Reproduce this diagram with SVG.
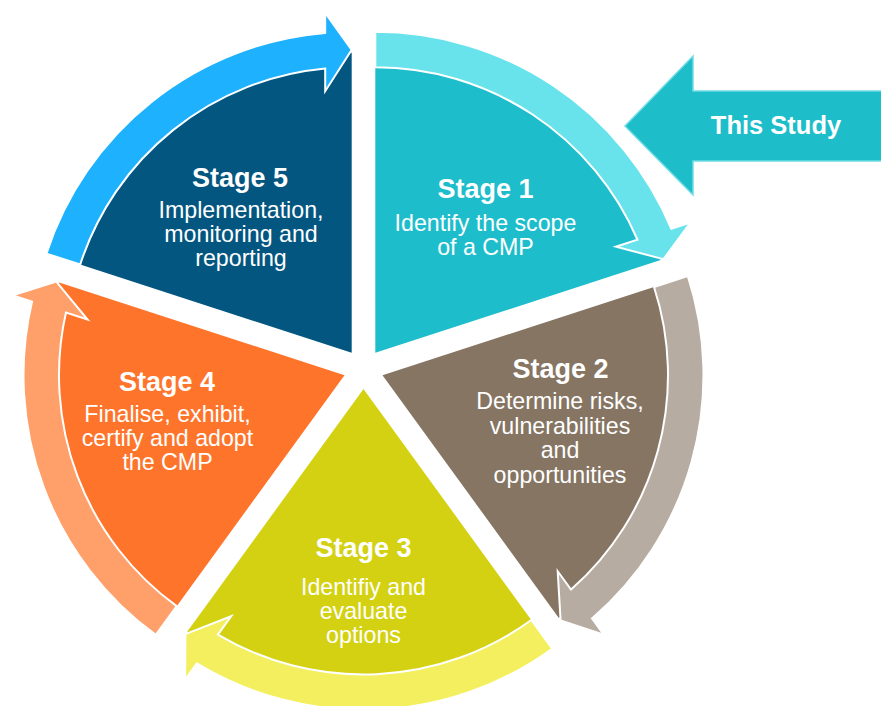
<svg xmlns="http://www.w3.org/2000/svg" xmlns:xlink="http://www.w3.org/1999/xlink" width="881" height="706" viewBox="0 0 881 706">
<style>
text{font-family:"Liberation Sans",Arial,Helvetica,sans-serif;fill:#fff;text-anchor:middle}
.t{font-weight:bold;font-size:27px}
.b{font-size:23.2px}
.band{stroke:#fff;stroke-width:2;stroke-linejoin:miter}
</style>
<defs>
<path id="sector" d="M0,0 L300,0 A300,300 0 0,1 92.705,285.317 Z"/>
<path id="band" d="M285.5,0 A285.5,285.5 0 0,1 113.05,262.17 L106.04,240.61 L93.63,288.17 L130.27,315.17 L124.06,296.05 A321,321 0 0,0 321,0 Z"/>
</defs>
<rect width="881" height="706" fill="#fff"/>
<g id="stage1">
<g transform="translate(375.3,352.8) rotate(-90)">
<use xlink:href="#sector" href="#sector" fill="#1DBDCB"/>
<use xlink:href="#band" href="#band" class="band" fill="#68E3EC"/>
</g>
<text class="t" x="485.5" y="198">Stage 1</text>
<text class="b" x="485.5" y="231">Identify the scope</text>
<text class="b" x="485.5" y="255">of a CMP</text>
</g>
<g id="stage2">
<g transform="translate(382.5,375.2) rotate(-18)">
<use xlink:href="#sector" href="#sector" fill="#867563"/>
<use xlink:href="#band" href="#band" class="band" fill="#B7ACA1"/>
</g>
<text class="t" x="560.5" y="378">Stage 2</text>
<text class="b" x="560" y="409">Determine risks,</text>
<text class="b" x="560" y="433.5">vulnerabilities</text>
<text class="b" x="560" y="458">and</text>
<text class="b" x="560" y="482.5">opportunities</text>
</g>
<g id="stage3">
<g transform="translate(363.5,389) rotate(54)">
<use xlink:href="#sector" href="#sector" fill="#D3D112"/>
<use xlink:href="#band" href="#band" class="band" fill="#F3EF5F"/>
</g>
<text class="t" x="363.5" y="557">Stage 3</text>
<text class="b" x="363.5" y="595">Identifiy and</text>
<text class="b" x="363.5" y="619">evaluate</text>
<text class="b" x="363.5" y="643">options</text>
</g>
<g id="stage4">
<g transform="translate(344.5,375.2) rotate(126)">
<use xlink:href="#sector" href="#sector" fill="#FE742B"/>
<use xlink:href="#band" href="#band" class="band" fill="#FFA06A"/>
</g>
<text class="t" x="167" y="391">Stage 4</text>
<text class="b" x="167.5" y="421.5">Finalise, exhibit,</text>
<text class="b" x="167.5" y="445.5">certify and adopt</text>
<text class="b" x="167.5" y="470">the CMP</text>
</g>
<g id="stage5">
<g transform="translate(351.7,352.8) rotate(198)">
<use xlink:href="#sector" href="#sector" fill="#03567F"/>
<use xlink:href="#band" href="#band" class="band" fill="#1DB1FE"/>
</g>
<text class="t" x="240" y="187">Stage 5</text>
<text class="b" x="241" y="218">Implementation,</text>
<text class="b" x="241" y="242">monitoring and</text>
<text class="b" x="241" y="266">reporting</text>
</g>
<g id="this-study">
<polygon points="625,126 693,56 693,91 884,91 884,161 693,161 693,195" fill="#1DBDCA" stroke="#6FDDE5" stroke-width="1.5"/>
<text class="t" x="776" y="134" style="font-size:25.5px">This Study</text>
</g>
<g id="connectors"/>
</svg>
